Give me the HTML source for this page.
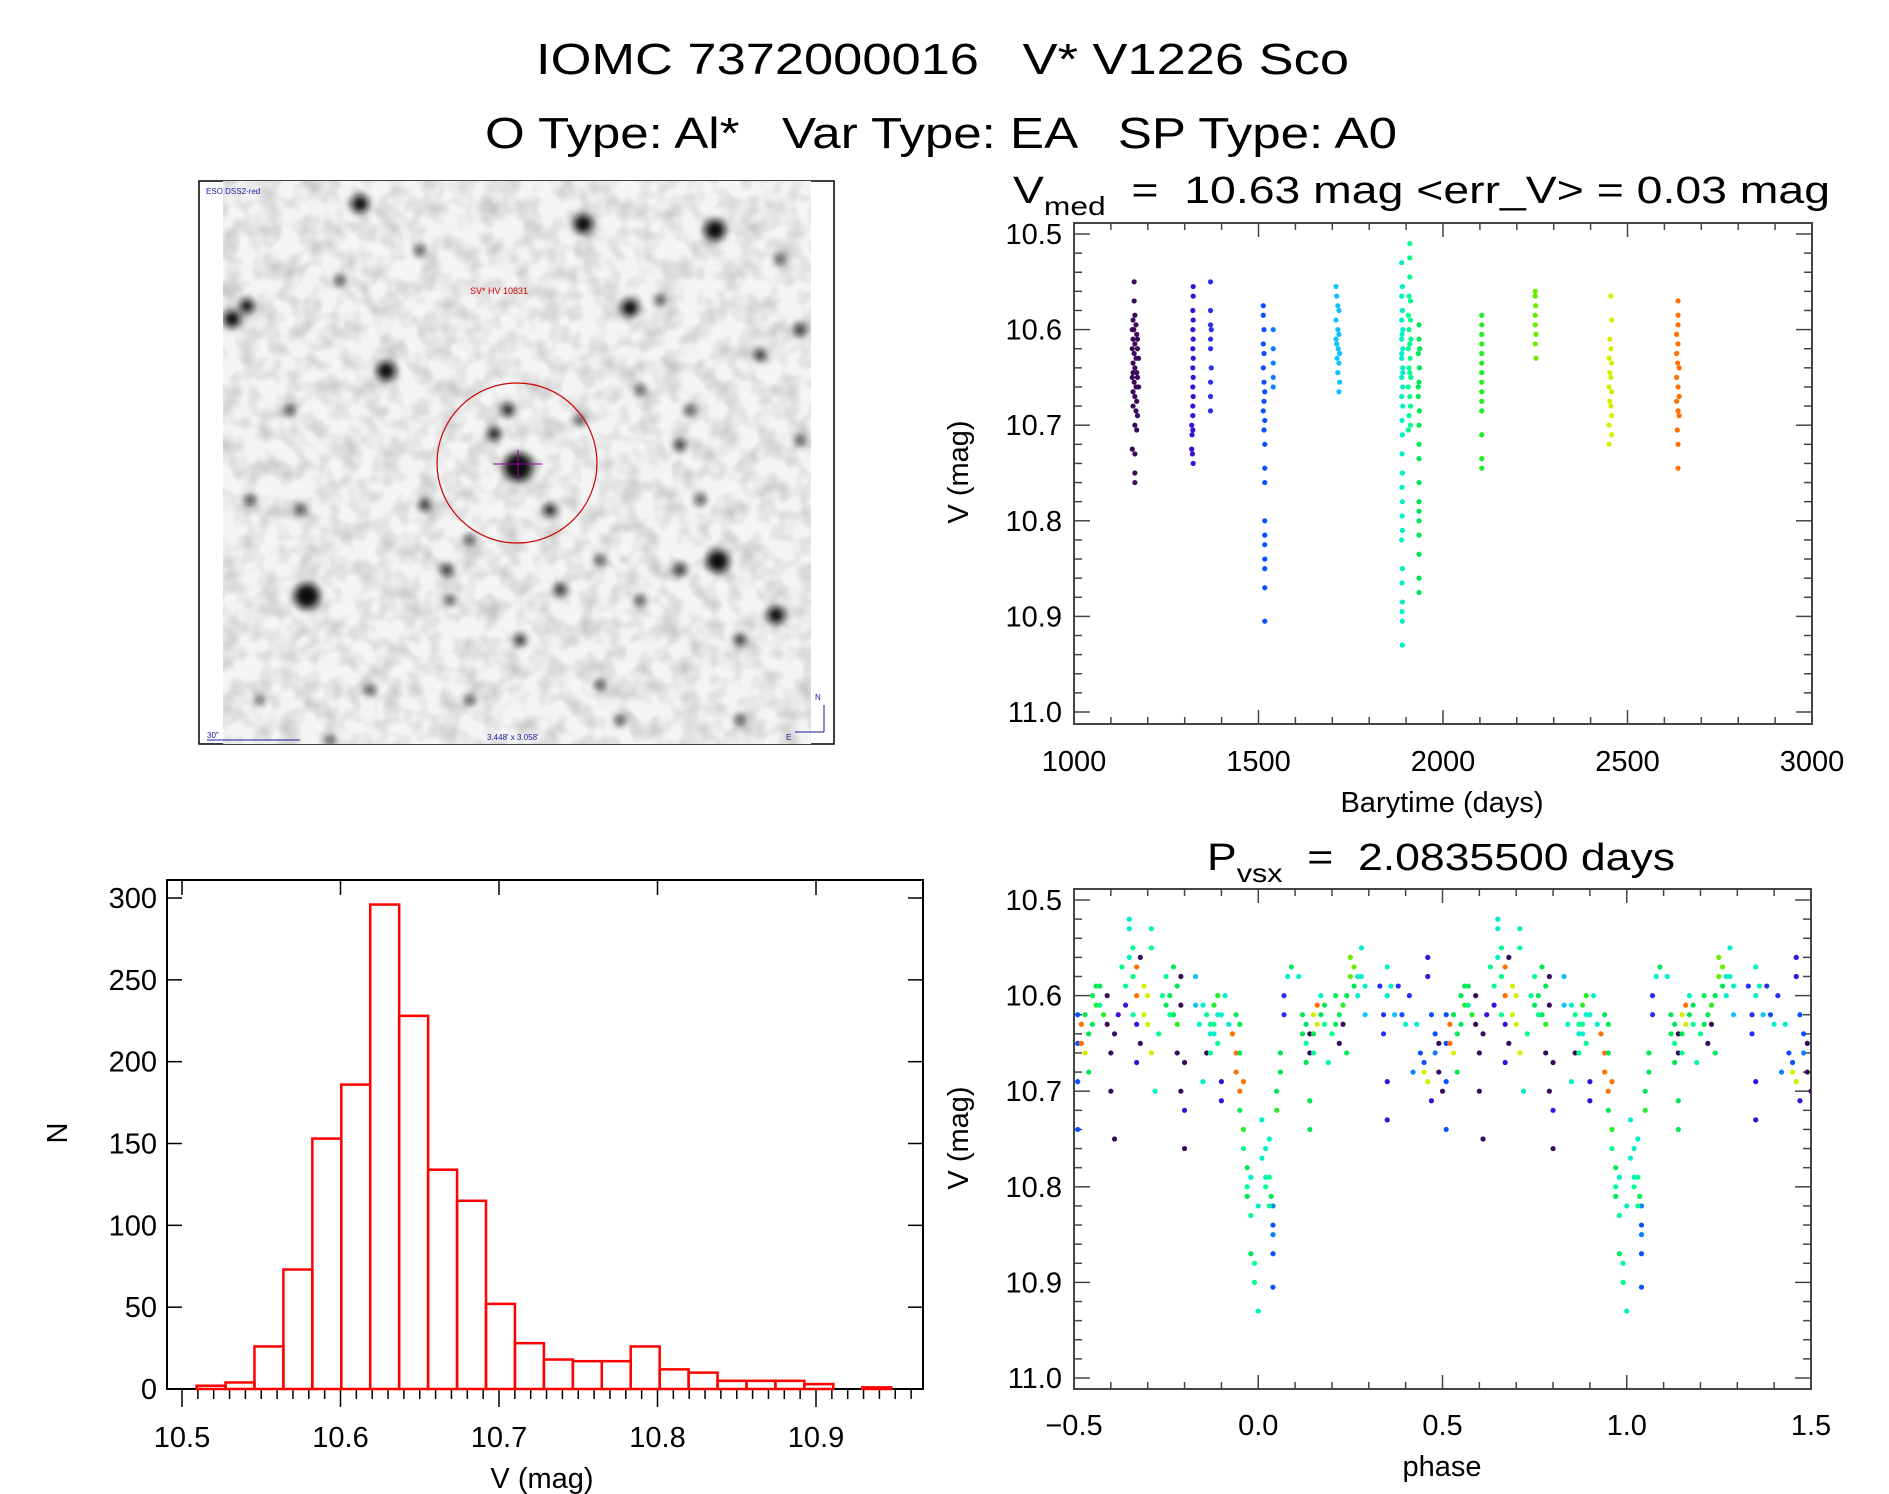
<!DOCTYPE html>
<html><head><meta charset="utf-8"><title>IOMC 7372000016 V* V1226 Sco</title>
<style>
html,body{margin:0;padding:0;background:#fff;}
svg{display:block;font-family:"Liberation Sans",sans-serif;}
text{white-space:pre;}
</style></head>
<body>
<svg id="fig" width="1889" height="1494" viewBox="0 0 1889 1494" xmlns="http://www.w3.org/2000/svg">
<defs>
<filter id="blur2" x="-50%" y="-50%" width="200%" height="200%"><feGaussianBlur stdDeviation="4"/></filter>
<filter id="noise" x="0" y="0" width="100%" height="100%">
<feTurbulence type="fractalNoise" baseFrequency="0.05" numOctaves="2" seed="3"/>
<feColorMatrix type="matrix" values="0 0 0 0 0  0 0 0 0 0  0 0 0 0 0  0 0 0 -1.6 1.0"/>
</filter>
<clipPath id="imgclip"><rect x="223" y="181" width="588" height="563"/></clipPath>
<clipPath id="phclip"><rect x="1074" y="889" width="737" height="500"/></clipPath>
</defs>
<text x="536" y="74" font-size="44" textLength="813" lengthAdjust="spacingAndGlyphs" xml:space="preserve">IOMC 7372000016   V* V1226 Sco</text>
<text x="485" y="148" font-size="44" textLength="912" lengthAdjust="spacingAndGlyphs" xml:space="preserve">O Type: Al*   Var Type: EA   SP Type: A0</text>

<g id="image-panel">
<rect x="199" y="181" width="635" height="563" fill="#fff" stroke="#000" stroke-width="1.5"/>
<g clip-path="url(#imgclip)">
<rect x="223" y="181" width="588" height="563" fill="#f4f4f4"/>
<rect x="223" y="181" width="588" height="563" fill="#000" filter="url(#noise)" opacity="0.22"/>
<g id="stars" filter="url(#blur2)"></g>
</g>
<text x="206" y="194" font-size="8" fill="#1a1aa0">ESO DSS2-red</text>
<text x="470" y="294" font-size="9" fill="#d00000">SV* HV 10831</text>
<ellipse cx="517" cy="463" rx="80" ry="80" fill="none" stroke="#cc0000" stroke-width="1.2"/>
<line x1="493" y1="464" x2="542" y2="464" stroke="#a000a0" stroke-width="1"/>
<line x1="518" y1="450" x2="518" y2="478" stroke="#a000a0" stroke-width="1"/>
<text x="207" y="738" font-size="8" fill="#1a1aa0">30"</text>
<line x1="207" y1="740" x2="300" y2="740" stroke="#1a1aa0" stroke-width="1"/>
<text x="487" y="740" font-size="8" fill="#1a1aa0">3.448' x 3.058'</text>
<line x1="824" y1="705" x2="824" y2="732" stroke="#1a1aa0" stroke-width="1"/>
<line x1="795" y1="732" x2="824" y2="732" stroke="#1a1aa0" stroke-width="1"/>
<text x="815" y="700" font-size="8" fill="#1a1aa0">N</text>
<text x="786" y="740" font-size="8" fill="#1a1aa0">E</text>
</g>

<g id="lc"></g>
<g id="ph"></g>
<g id="hist"></g>
</svg>
<script>
// ---------- Histogram data ----------
const histEdgeStart = 10.5092;
const histBinWidth = 0.01826;
const histCounts = [2,4,26,73,153,186,296,228,134,115,52,28,18,17,17,26,12,10,5,5,5,3,0,1];
const histXTicks = [10.5,10.6,10.7,10.8,10.9];
const histXTickLabels = ["10.5","10.6","10.7","10.8","10.9"];
const histYTicks = [0,50,100,150,200,250,300];

// ---------- Light curve data (per season) ----------
const seasonColors = ["#3a0a5a","#3a10d8","#2a30f0","#0a50ff","#0a80ff","#10c0ff","#00f0c8","#00ff90","#00e855","#22ee22","#66ee00","#d8ee00","#ff7000"];
const lcSeason0 = [[1163,10.55],[1163,10.57],[1160,10.59],[1165,10.585],[1162,10.60],[1168,10.595],[1160,10.61],[1165,10.615],[1170,10.605],[1158,10.62],[1163,10.625],[1168,10.63],[1172,10.62],[1160,10.635],[1165,10.64],[1170,10.645],[1158,10.65],[1163,10.655],[1168,10.66],[1172,10.65],[1160,10.665],[1165,10.67],[1170,10.675],[1160,10.68],[1168,10.685],[1172,10.69],[1165,10.70],[1170,10.705],[1158,10.725],[1165,10.73],[1165,10.75],[1165,10.76],[1172,10.61],[1175,10.63],[1175,10.66],[1160,10.645],[1158,10.60]];
const lcSeason1 = [[1323,10.555],[1323,10.565],[1322,10.58],[1323,10.59],[1322,10.60],[1323,10.61],[1322,10.62],[1323,10.63],[1322,10.64],[1323,10.65],[1322,10.66],[1323,10.67],[1322,10.68],[1319,10.70],[1322,10.705],[1320,10.71],[1319,10.725],[1321,10.73],[1323,10.74],[1322,10.69]];
const lcSeason2 = [[1370,10.55],[1370,10.58],[1370,10.595],[1372,10.60],[1370,10.61],[1370,10.62],[1372,10.64],[1370,10.655],[1370,10.67],[1370,10.685]];
const lcSeason3 = [[1513,10.575],[1513,10.585],[1515,10.60],[1513,10.615],[1515,10.625],[1513,10.64],[1515,10.655],[1517,10.665],[1515,10.675],[1513,10.685],[1517,10.695],[1515,10.705],[1517,10.72],[1517,10.745],[1517,10.76],[1517,10.80],[1517,10.815],[1517,10.825],[1517,10.84],[1517,10.85],[1517,10.87],[1517,10.905]];
const lcSeason4 = [[1540,10.60],[1540,10.62],[1540,10.635],[1540,10.65],[1540,10.66]];
const lcSeason5 = [[1710,10.555],[1712,10.565],[1715,10.575],[1718,10.58],[1710,10.59],[1715,10.60],[1718,10.605],[1712,10.615],[1716,10.62],[1720,10.625],[1713,10.63],[1718,10.635],[1715,10.645],[1720,10.655],[1718,10.665],[1710,10.61]];
const lcSeason6 = [[1888,10.53],[1890,10.555],[1888,10.565],[1890,10.58],[1888,10.59],[1891,10.60],[1888,10.61],[1891,10.62],[1888,10.63],[1891,10.64],[1888,10.65],[1891,10.66],[1888,10.67],[1891,10.68],[1889,10.695],[1890,10.71],[1889,10.73],[1890,10.75],[1889,10.765],[1890,10.78],[1889,10.795],[1890,10.81],[1888,10.82],[1890,10.85],[1889,10.865],[1890,10.885],[1889,10.895],[1890,10.905],[1890,10.93],[1888,10.625],[1891,10.645],[1889,10.605]];
const lcSeason7 = [[1910,10.51],[1910,10.525],[1910,10.545],[1908,10.565],[1912,10.57],[1906,10.585],[1912,10.59],[1908,10.60],[1913,10.61],[1906,10.62],[1911,10.63],[1908,10.64],[1913,10.65],[1906,10.66],[1910,10.67],[1912,10.68],[1908,10.69],[1912,10.70],[1906,10.705],[1910,10.615],[1910,10.645]];
const lcSeason8 = [[1935,10.595],[1935,10.61],[1933,10.625],[1936,10.64],[1935,10.655],[1933,10.67],[1936,10.685],[1935,10.70],[1935,10.72],[1935,10.735],[1935,10.76],[1935,10.78],[1935,10.79],[1935,10.80],[1935,10.815],[1935,10.835],[1935,10.86],[1935,10.875],[1937,10.62],[1933,10.66]];
const lcSeason9 = [[2105,10.585],[2105,10.595],[2105,10.605],[2105,10.615],[2105,10.625],[2105,10.635],[2105,10.645],[2105,10.655],[2105,10.665],[2105,10.675],[2105,10.685],[2105,10.71],[2105,10.735],[2105,10.745]];
const lcSeason10 = [[2250,10.56],[2250,10.565],[2251,10.575],[2250,10.585],[2250,10.595],[2252,10.605],[2250,10.615],[2252,10.63]];
const lcSeason11 = [[2455,10.565],[2457,10.59],[2452,10.61],[2455,10.62],[2450,10.63],[2457,10.635],[2452,10.645],[2455,10.65],[2450,10.66],[2457,10.665],[2452,10.675],[2455,10.68],[2457,10.69],[2450,10.70],[2457,10.71],[2450,10.72]];
const lcSeason12 = [[2637,10.57],[2637,10.585],[2637,10.595],[2633,10.605],[2637,10.615],[2633,10.625],[2636,10.635],[2640,10.64],[2633,10.65],[2637,10.66],[2640,10.67],[2633,10.675],[2637,10.685],[2640,10.69],[2635,10.705],[2637,10.72],[2637,10.745]];
const lcXTicks = [1000,1500,2000,2500,3000];
const magTicks = [10.5,10.6,10.7,10.8,10.9,11.0];
const magTickLabels = ["10.5","10.6","10.7","10.8","10.9","11.0"];

// ---------- Phase data: [phase, mag, season] ----------
const phasePoints = [
[-0.49,10.62,3],[-0.49,10.65,3],[-0.49,10.69,3],[-0.49,10.74,3],[-0.48,10.63,12],[-0.48,10.65,12],[-0.47,10.66,11],[-0.46,10.68,8],
[-0.45,10.60,8],[-0.45,10.63,8],[-0.44,10.61,9],[-0.43,10.59,8],[-0.43,10.61,7],[-0.41,10.60,0],[-0.41,10.63,0],[-0.40,10.66,0],[-0.40,10.70,0],[-0.39,10.64,0],[-0.39,10.75,0],
[-0.37,10.57,7],[-0.36,10.61,1],[-0.35,10.52,6],[-0.35,10.53,6],[-0.34,10.55,7],[-0.34,10.58,7],[-0.34,10.62,7],[-0.33,10.57,12],[-0.33,10.60,12],[-0.33,10.63,1],[-0.33,10.67,1],[-0.32,10.56,0],[-0.32,10.65,0],
[-0.30,10.60,11],[-0.30,10.63,11],[-0.29,10.55,7],[-0.29,10.53,7],[-0.29,10.66,11],[-0.28,10.70,6],[-0.26,10.60,7],[-0.25,10.61,8],[-0.24,10.62,7],[-0.23,10.57,8],[-0.22,10.59,8],[-0.22,10.63,9],[-0.22,10.66,0],[-0.21,10.58,0],[-0.21,10.70,0],[-0.20,10.67,0],[-0.20,10.72,1],[-0.20,10.76,0],
[-0.17,10.58,5],[-0.17,10.61,5],[-0.16,10.63,6],[-0.15,10.69,6],[-0.14,10.66,0],[-0.13,10.63,7],[-0.13,10.66,7],[-0.12,10.61,9],[-0.12,10.64,6],[-0.11,10.62,6],[-0.11,10.65,7],[-0.10,10.69,1],[-0.10,10.71,1],[-0.09,10.60,6],
[-0.07,10.64,12],[-0.06,10.66,12],[-0.06,10.68,12],[-0.05,10.63,8],[-0.05,10.66,8],[-0.05,10.70,12],[-0.05,10.72,8],[-0.04,10.74,9],[-0.04,10.76,7],[-0.03,10.78,8],[-0.03,10.80,7],[-0.03,10.81,8],[-0.02,10.83,7],[-0.02,10.87,8],[-0.01,10.88,7],[-0.01,10.90,7],[0.00,10.93,6],
[0.01,10.73,6],[0.01,10.77,6],[0.02,10.79,6],[0.02,10.80,7],[0.03,10.75,6],[0.03,10.79,7],[0.04,10.82,4],[0.04,10.84,3],[0.04,10.85,4],[0.04,10.87,3],[0.04,10.905,3],[0.035,10.81,8],[0.05,10.70,8],[0.05,10.72,9],[0.06,10.66,8],[0.06,10.68,8],[0.07,10.60,2],[0.07,10.62,2],[0.08,10.58,6],[0.09,10.57,8],
[0.11,10.58,6],[0.12,10.64,8],[0.13,10.63,8],[0.13,10.67,8],[0.14,10.64,0],[0.14,10.66,0],[0.14,10.71,8],[0.14,10.74,8],[0.15,10.62,11],[0.16,10.61,12],[0.16,10.63,11],[0.17,10.60,6],[0.18,10.63,7],[0.19,10.67,7],
[0.21,10.60,8],[0.22,10.62,8],[0.22,10.65,0],[0.23,10.63,0],[0.24,10.66,8],[0.25,10.56,10],[0.25,10.58,10],[0.26,10.59,8],[0.27,10.60,6],[0.28,10.58,6],[0.28,10.55,6],[0.29,10.62,5],
[0.33,10.59,2],[0.34,10.62,2],[0.34,10.64,2],[0.35,10.57,6],[0.35,10.60,6],[0.35,10.69,1],[0.35,10.73,1],[0.38,10.59,2],[0.39,10.62,3],[0.40,10.63,6],[0.42,10.68,4],
[0.44,10.66,3],[0.45,10.67,3],[0.45,10.68,11],[0.46,10.56,1],[0.46,10.58,1],[0.46,10.69,11],[0.47,10.71,1],[0.48,10.64,3],[0.49,10.65,0],[0.49,10.68,0],[0.50,10.70,0],
[-0.47,10.62,8],[-0.46,10.64,8],[-0.44,10.59,8],[-0.42,10.62,9],[-0.38,10.62,1],[-0.36,10.59,7],[-0.35,10.56,6],[-0.31,10.59,11],[-0.31,10.62,11],[-0.27,10.64,7],[-0.25,10.58,7],[-0.24,10.60,8],[-0.23,10.62,8],[-0.21,10.61,0],
[-0.15,10.61,6],[-0.14,10.62,7],[-0.13,10.64,6],[-0.12,10.63,7],[-0.11,10.60,9],[-0.10,10.62,6],[-0.08,10.63,6],[-0.06,10.62,8],[-0.04,10.69,12],[-0.02,10.79,6],[0.00,10.82,6],[0.02,10.76,6],[0.03,10.82,7],
[0.12,10.62,8],[0.13,10.65,7],[0.15,10.64,8],[0.15,10.66,7],[0.17,10.62,8],[0.18,10.61,8],[0.20,10.64,7],[0.21,10.63,8],[0.23,10.61,9],[0.24,10.60,8],[0.26,10.57,10],[0.27,10.58,6],[0.29,10.59,6],
[0.36,10.59,6],[0.37,10.62,5],[0.41,10.60,2],[0.43,10.63,6],[0.47,10.62,3],[0.48,10.66,4]
];
const phXTicks = [-0.5,0.0,0.5,1.0,1.5];
const phXTickLabels = ["\u22120.5","0.0","0.5","1.0","1.5"];

// ---------- Star field (sky image) ----------
const starList = [[307,596,16],[718,561,14],[518,467,18],[715,230,13],[583,224,12],[386,371,12],[630,308,11],[776,615,11],[360,204,11],[232,319,11],[247,306,9],[494,434,8],[508,410,8],[550,510,8],[425,505,7],[447,570,7],[520,640,7],[560,590,7],[680,570,7],[600,685,6],[680,445,7],[700,500,6],[760,355,7],[800,440,6],[290,410,6],[300,510,6],[420,250,6],[450,600,6],[370,690,6],[470,700,6],[620,720,6],[740,640,7],[660,300,6],[800,330,7],[340,280,6],[250,500,6],[580,420,6],[640,390,6],[690,410,6],[470,540,6],[600,560,6],[740,720,6],[260,700,5],[330,740,5],[780,260,6],[640,600,6]];

const NS = "http://www.w3.org/2000/svg";
function el(tag, attrs, parent){ const e=document.createElementNS(NS,tag); for(const k in attrs) e.setAttribute(k,attrs[k]); parent.appendChild(e); return e; }

const starsG = document.getElementById('stars');
starList.forEach(s=>{
  const c = el('circle',{cx:s[0],cy:s[1],r:s[2]*0.8,fill:'#111'},starsG);
  
  
});

// ---------- Light curve ----------
(function(){
  const g = document.getElementById('lc');
  const L=1074,R=1812,T=223,B=724;
  const x = t => L + (t-1000)/2000*(R-L);
  const y = m => 234 + (m-10.5)/0.5*(712-234);
  const ax = '#444';
  el('rect',{x:L,y:T,width:R-L,height:B-T,fill:'none',stroke:ax,'stroke-width':2},g);
  for(let t=1000;t<=3000;t+=100){
    const major = (t%500===0); const len = major?14:7;
    el('line',{x1:x(t),y1:B,x2:x(t),y2:B-len,stroke:ax,'stroke-width':1.5},g);
    el('line',{x1:x(t),y1:T,x2:x(t),y2:T+len,stroke:ax,'stroke-width':1.5},g);
  }
  for(let i=0;i<=26;i++){
    const m = 10.48 + i*0.02; const py=y(m); if(py<T||py>B) continue;
    const major = Math.abs((m*10)-Math.round(m*10))<1e-6; const len = major?16:8;
    el('line',{x1:L,y1:py,x2:L+len,y2:py,stroke:ax,'stroke-width':1.5},g);
    el('line',{x1:R,y1:py,x2:R-len,y2:py,stroke:ax,'stroke-width':1.5},g);
  }
  lcXTicks.forEach(t=>{
    const tx = el('text',{x:x(t),y:771,'font-size':29,'text-anchor':'middle'},g); tx.textContent=String(t);
     
  });
  magTicks.forEach((m,i)=>{
    const tx = el('text',{x:1062,y:y(m)+10,'font-size':29,'text-anchor':'end'},g); tx.textContent=magTickLabels[i];
     
  });
  const xt = el('text',{x:1442,y:812,'font-size':29,'text-anchor':'middle'},g); xt.textContent='Barytime (days)';
   
  const yt = el('text',{x:0,y:0,'font-size':29,'text-anchor':'middle',transform:'translate(968,472) rotate(-90)'},g); yt.textContent='V (mag)';
   
  const tt = el('text',{x:1013,y:203,'font-size':38,textLength:817,lengthAdjust:'spacingAndGlyphs'},g);
   
  tt.innerHTML = 'V<tspan font-size="26" dy="12">med</tspan><tspan dy="-12">  =  10.63 mag &lt;err_V&gt; = 0.03 mag</tspan>';
  const seasons = [lcSeason0,lcSeason1,lcSeason2,lcSeason3,lcSeason4,lcSeason5,lcSeason6,lcSeason7,lcSeason8,lcSeason9,lcSeason10,lcSeason11,lcSeason12];
  seasons.forEach((pts,si)=>{
    pts.forEach(p=>{
      const c = el('circle',{cx:x(p[0]),cy:y(p[1]),r:2.6,fill:seasonColors[si]},g);
      
      
    });
  });
})();

// ---------- Phase plot ----------
(function(){
  const g = document.getElementById('ph');
  const L=1074,R=1811,T=889,B=1389;
  const x = p => L + (p+0.5)/2*(R-L);
  const y = m => 900 + (m-10.5)/0.5*(1378-900);
  const ax = '#444';
  el('rect',{x:L,y:T,width:R-L,height:B-T,fill:'none',stroke:ax,'stroke-width':2},g);
  for(let i=0;i<=20;i++){
    const p=-0.5+i*0.1; const major=(i%5===0); const len=major?14:7;
    el('line',{x1:x(p),y1:B,x2:x(p),y2:B-len,stroke:ax,'stroke-width':1.5},g);
    el('line',{x1:x(p),y1:T,x2:x(p),y2:T+len,stroke:ax,'stroke-width':1.5},g);
  }
  for(let i=0;i<=26;i++){
    const m = 10.48 + i*0.02; const py=y(m); if(py<T||py>B) continue;
    const major = Math.abs((m*10)-Math.round(m*10))<1e-6; const len = major?16:8;
    el('line',{x1:L,y1:py,x2:L+len,y2:py,stroke:ax,'stroke-width':1.5},g);
    el('line',{x1:R,y1:py,x2:R-len,y2:py,stroke:ax,'stroke-width':1.5},g);
  }
  phXTicks.forEach((p,i)=>{
    const tx = el('text',{x:x(p),y:1435,'font-size':29,'text-anchor':'middle'},g); tx.textContent=phXTickLabels[i];
     
  });
  magTicks.forEach((m,i)=>{
    const tx = el('text',{x:1062,y:y(m)+10,'font-size':29,'text-anchor':'end'},g); tx.textContent=magTickLabels[i];
     
  });
  const xt = el('text',{x:1442,y:1476,'font-size':29,'text-anchor':'middle'},g); xt.textContent='phase';
   
  const yt = el('text',{x:0,y:0,'font-size':29,'text-anchor':'middle',transform:'translate(968,1138) rotate(-90)'},g); yt.textContent='V (mag)';
   
  const tt = el('text',{x:1207,y:870,'font-size':38,textLength:468,lengthAdjust:'spacingAndGlyphs'},g);
   
  tt.innerHTML = 'P<tspan font-size="26" dy="12">vsx</tspan><tspan dy="-12">  =  2.0835500 days</tspan>';
  const pg = el('g',{'clip-path':'url(#phclip)'},g);
  [0,1].forEach(shift=>{
    phasePoints.forEach(p=>{
      const c = el('circle',{cx:x(p[0]+shift),cy:y(p[1]),r:2.6,fill:seasonColors[p[2]]},pg);
      
      
    });
  });
})();

// ---------- Histogram ----------
(function(){
  const g = document.getElementById('hist');
  const L=167,R=923,T=880,B=1389;
  const x = v => 182 + (v-10.5)/0.4*(816-182);
  const y = n => 1389 - n/300*(1389-898);
  el('rect',{x:L,y:T,width:R-L,height:B-T,fill:'none',stroke:'#000','stroke-width':2},g);
  for(let i=0;i<=47;i++){
    const v=10.5+i*0.01; const px=x(v); if(px>R) break;
    const major=(i%10===0);
    el('line',{x1:px,y1:B,x2:px,y2:B+(major?18:10),stroke:'#000','stroke-width':1.5},g);
    if(major) el('line',{x1:px,y1:T,x2:px,y2:T+15,stroke:'#000','stroke-width':1.5},g);
  }
  histYTicks.forEach(n=>{
    el('line',{x1:L,y1:y(n),x2:L+15,y2:y(n),stroke:'#000','stroke-width':1.5},g);
    el('line',{x1:R,y1:y(n),x2:R-15,y2:y(n),stroke:'#000','stroke-width':1.5},g);
    const tx = el('text',{x:157,y:y(n)+10,'font-size':29,'text-anchor':'end'},g); tx.textContent=String(n);
     
  });
  histXTicks.forEach((v,i)=>{
    const tx = el('text',{x:x(v),y:1447,'font-size':29,'text-anchor':'middle'},g); tx.textContent=histXTickLabels[i];
     
  });
  const xt = el('text',{x:542,y:1488,'font-size':29,'text-anchor':'middle'},g); xt.textContent='V (mag)';
   
  const yt = el('text',{x:0,y:0,'font-size':29,'text-anchor':'middle',transform:'translate(67,1133) rotate(-90)'},g); yt.textContent='N';
   
  histCounts.forEach((n,i)=>{
    const x0 = x(histEdgeStart + i*histBinWidth), x1 = x(histEdgeStart + (i+1)*histBinWidth);
    const r = el('rect',{x:x0,y:y(n),width:x1-x0,height:Math.max(0,y(0)-y(n)),fill:'none',stroke:'#ff0000','stroke-width':2.5},g);
    
    
  });
})();
</script>
</body></html>
